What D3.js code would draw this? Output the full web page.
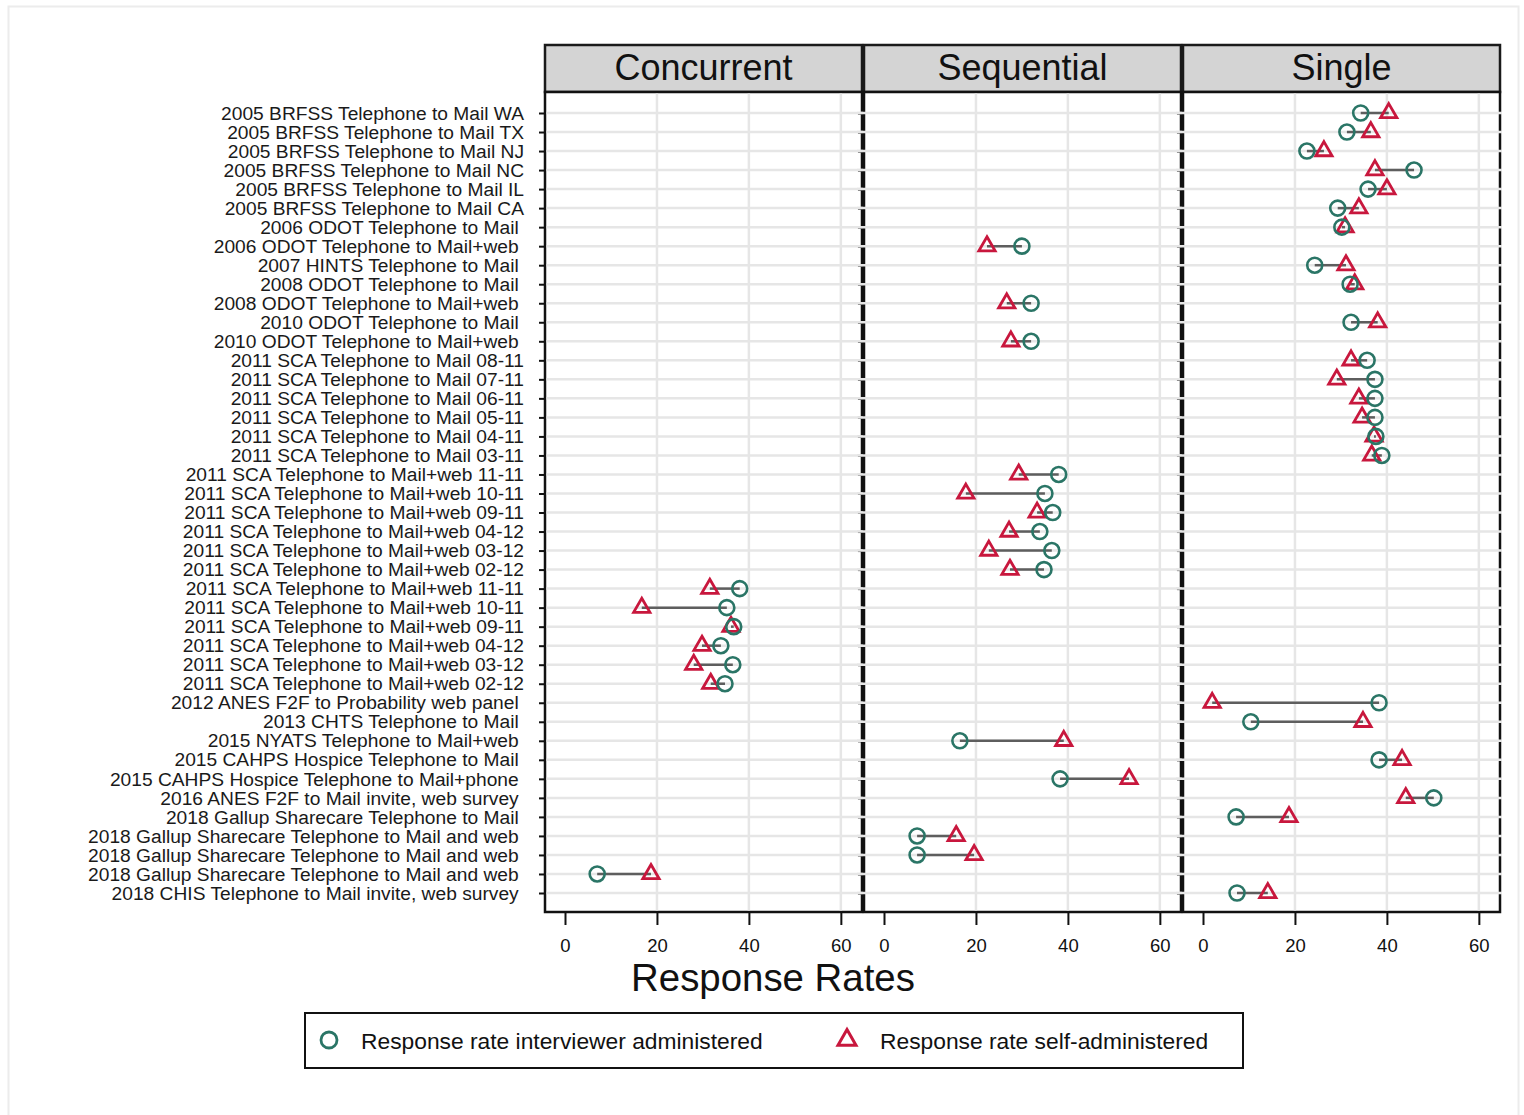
<!DOCTYPE html>
<html>
<head>
<meta charset="utf-8">
<script src="https://cdn.jsdelivr.net/npm/d3@7"></script>
<style>
  body { margin: 0; background: #fff; }
  svg text { font-family: "Liberation Sans", Arial, sans-serif; }
  .row-label { white-space: pre; }
</style>
</head>
<body>
<div id="chart"></div>
<script>
// rows, top to bottom
const surveys = [
    "2005 BRFSS Telephone to Mail WA",
    "2005 BRFSS Telephone to Mail TX",
    "2005 BRFSS Telephone to Mail NJ",
    "2005 BRFSS Telephone to Mail NC",
    "2005 BRFSS Telephone to Mail IL",
    "2005 BRFSS Telephone to Mail CA",
    "2006 ODOT Telephone to Mail ",
    "2006 ODOT Telephone to Mail+web ",
    "2007 HINTS Telephone to Mail ",
    "2008 ODOT Telephone to Mail ",
    "2008 ODOT Telephone to Mail+web ",
    "2010 ODOT Telephone to Mail ",
    "2010 ODOT Telephone to Mail+web ",
    "2011 SCA Telephone to Mail 08-11",
    "2011 SCA Telephone to Mail 07-11",
    "2011 SCA Telephone to Mail 06-11",
    "2011 SCA Telephone to Mail 05-11",
    "2011 SCA Telephone to Mail 04-11",
    "2011 SCA Telephone to Mail 03-11",
    "2011 SCA Telephone to Mail+web 11-11",
    "2011 SCA Telephone to Mail+web 10-11",
    "2011 SCA Telephone to Mail+web 09-11",
    "2011 SCA Telephone to Mail+web 04-12",
    "2011 SCA Telephone to Mail+web 03-12",
    "2011 SCA Telephone to Mail+web 02-12",
    "2011 SCA Telephone to Mail+web 11-11",
    "2011 SCA Telephone to Mail+web 10-11",
    "2011 SCA Telephone to Mail+web 09-11",
    "2011 SCA Telephone to Mail+web 04-12",
    "2011 SCA Telephone to Mail+web 03-12",
    "2011 SCA Telephone to Mail+web 02-12",
    "2012 ANES F2F to Probability web panel ",
    "2013 CHTS Telephone to Mail ",
    "2015 NYATS Telephone to Mail+web ",
    "2015 CAHPS Hospice Telephone to Mail ",
    "2015 CAHPS Hospice Telephone to Mail+phone ",
    "2016 ANES F2F to Mail invite, web survey ",
    "2018 Gallup Sharecare Telephone to Mail ",
    "2018 Gallup Sharecare Telephone to Mail and web ",
    "2018 Gallup Sharecare Telephone to Mail and web ",
    "2018 Gallup Sharecare Telephone to Mail and web ",
    "2018 CHIS Telephone to Mail invite, web survey "
]

const modes = [
    "Single", "Single", "Single", "Single", "Single", "Single",
    "Single", "Sequential", "Single", "Single", "Sequential", "Single", "Sequential",
    "Single", "Single", "Single", "Single", "Single", "Single",
    "Sequential", "Sequential", "Sequential", "Sequential", "Sequential", "Sequential",
    "Concurrent", "Concurrent", "Concurrent", "Concurrent", "Concurrent", "Concurrent",
    "Single", "Single", "Sequential", "Single", "Sequential", "Single", "Single",
    "Sequential", "Sequential", "Concurrent", "Single"
]

const interviewer = [
    34.3, 31.3, 22.6, 45.9, 35.9, 29.3,
    30.2, 30.0, 24.3, 32.0, 32.0, 32.2, 32.0,
    35.7, 37.4, 37.4, 37.4, 37.6, 38.9,
    38.0, 35.0, 36.7, 33.9, 36.5, 34.8,
    38.0, 35.2, 36.7, 33.9, 36.5, 34.8,
    38.3, 10.4, 16.5, 38.3, 38.3, 50.2, 7.2,
    7.2, 7.2, 7.0, 7.4
]

const selfAdministered = [
    40.4, 36.5, 26.3, 37.4, 40.0, 33.9,
    30.9, 22.4, 31.1, 33.0, 26.7, 38.0, 27.6,
    32.2, 29.1, 33.9, 34.6, 37.2, 36.7,
    29.3, 17.8, 33.3, 27.2, 22.8, 27.4,
    31.5, 16.7, 36.1, 29.8, 28.0, 31.7,
    2.0, 34.8, 39.1, 43.3, 53.3, 44.1, 18.7,
    15.7, 19.6, 18.7, 14.1
]

const panels = ["Concurrent", "Sequential", "Single"]
const xTicks = [0, 20, 40, 60]

// layout
const W = 1524, H = 1115
const panelLeft = 545, panelWidth = 317, panelGap = 2
const headerTop = 45, plotTop = 92, plotBottom = 912

const circleColor = "#2a7566"
const triangleColor = "#c8173d"
const gridColor = "#e6e6e6"

const data = surveys.map((s, i) => ({
    i, survey: s, mode: modes[i], iv: interviewer[i], sa: selfAdministered[i]
}))

const svg = d3.select("#chart").append("svg")
    .attr("width", W)
    .attr("height", H)

svg.append("rect")
    .attr("x", 8.5).attr("y", 6.5)
    .attr("width", W - 14).attr("height", H)
    .attr("fill", "#fff")
    .attr("stroke", "#ececec")
    .attr("stroke-width", 2)

const yScale = d3.scalePoint()
    .domain(d3.range(surveys.length))
    .range([113, 893])

const xScale = d3.scaleLinear()
    .domain([-4.35, 64.6])
    .range([0, panelWidth])

const triangle = d3.symbol(d3.symbolTriangle, 115)

panels.forEach((p, pi) => {
    const x0 = panelLeft + pi * (panelWidth + panelGap)
    const g = svg.append("g")
        .attr("transform", `translate(${x0},0)`)

    // header strip
    g.append("rect")
        .attr("x", 0).attr("y", headerTop)
        .attr("width", panelWidth).attr("height", plotTop - headerTop)
        .attr("fill", "#d4d4d4")
        .attr("stroke", "#1a1a1a")
        .attr("stroke-width", 2.5)
    g.append("text")
        .attr("x", panelWidth / 2).attr("y", 80)
        .attr("text-anchor", "middle")
        .attr("font-size", 36)
        .attr("fill", "#111")
        .text(p)

    // plot frame
    g.append("rect")
        .attr("x", 0).attr("y", plotTop)
        .attr("width", panelWidth).attr("height", plotBottom - plotTop)
        .attr("fill", "#fff")
        .attr("stroke", "#111")
        .attr("stroke-width", 2.5)

    // y axis ticks (labels on first panel only)
    const yAxis = d3.axisLeft(yScale)
        .tickSize(6)
        .tickPadding(15)
        .tickFormat(pi === 0 ? (d => surveys[d]) : "")
    const yGroup = g.append("g").attr("class", "y-axis").call(yAxis)
    yGroup.select(".domain").remove()
    yGroup.selectAll(".tick line").attr("stroke", "#111").attr("stroke-width", 2)
    yGroup.selectAll(".tick text")
        .attr("class", "row-label")
        .attr("font-size", 19.2)
        .attr("fill", "#1a1a1a")
        .attr("font-family", "Liberation Sans, Arial, sans-serif")

    // horizontal gridlines run over the side borders
    g.append("g").selectAll("line")
        .data(yScale.domain())
        .join("line")
        .attr("x1", pi === 0 ? 1.5 : -7)
        .attr("x2", panelWidth + 2)
        .attr("y1", d => yScale(d)).attr("y2", d => yScale(d))
        .attr("stroke", gridColor)
        .attr("stroke-width", 2.5)

    // vertical gridlines
    g.append("g").selectAll("line")
        .data(xTicks.filter(t => t > 0))
        .join("line")
        .attr("x1", d => xScale(d)).attr("x2", d => xScale(d))
        .attr("y1", plotTop + 1.5).attr("y2", plotBottom - 1.5)
        .attr("stroke", gridColor)
        .attr("stroke-width", 2.5)

    // x axis
    const xAxis = d3.axisBottom(xScale)
        .tickValues(xTicks)
        .tickSize(13)
        .tickPadding(14)
    const xGroup = g.append("g")
        .attr("class", "x-axis")
        .attr("transform", `translate(0,${plotBottom})`)
        .call(xAxis)
    xGroup.select(".domain").remove()
    xGroup.selectAll(".tick line").attr("stroke", "#111").attr("stroke-width", 2)
    xGroup.selectAll(".tick text")
        .attr("font-size", 18.5)
        .attr("fill", "#111")
        .attr("font-family", "Liberation Sans, Arial, sans-serif")

    // dumbbells
    const rows = data.filter(d => d.mode === p)

    g.append("g").selectAll("line")
        .data(rows)
        .join("line")
        .attr("x1", d => xScale(d.iv)).attr("x2", d => xScale(d.sa))
        .attr("y1", d => yScale(d.i)).attr("y2", d => yScale(d.i))
        .attr("stroke", "#5e5e5e")
        .attr("stroke-width", 2.5)

    g.append("g").selectAll("path")
        .data(rows)
        .join("path")
        .attr("d", triangle)
        .attr("transform", d => `translate(${xScale(d.sa)},${yScale(d.i)})`)
        .attr("fill", "none")
        .attr("stroke", triangleColor)
        .attr("stroke-width", 2.8)

    g.append("g").selectAll("circle")
        .data(rows)
        .join("circle")
        .attr("cx", d => xScale(d.iv))
        .attr("cy", d => yScale(d.i))
        .attr("r", 7.5)
        .attr("fill", "none")
        .attr("stroke", circleColor)
        .attr("stroke-width", 2.6)
})

// axis title
svg.append("text")
    .attr("x", 773).attr("y", 991)
    .attr("text-anchor", "middle")
    .attr("font-size", 38.4)
    .attr("fill", "#111")
    .text("Response Rates")

// legend
const legend = svg.append("g")
legend.append("rect")
    .attr("x", 305).attr("y", 1013)
    .attr("width", 938).attr("height", 55)
    .attr("fill", "#fff")
    .attr("stroke", "#111")
    .attr("stroke-width", 2)
legend.append("circle")
    .attr("cx", 329).attr("cy", 1040)
    .attr("r", 8)
    .attr("fill", "none")
    .attr("stroke", circleColor)
    .attr("stroke-width", 2.8)
legend.append("text")
    .attr("x", 361).attr("y", 1049)
    .attr("font-size", 22.8)
    .attr("fill", "#111")
    .text("Response rate interviewer administered")
legend.append("path")
    .attr("d", d3.symbol(d3.symbolTriangle, 140)())
    .attr("transform", "translate(847,1040)")
    .attr("fill", "none")
    .attr("stroke", triangleColor)
    .attr("stroke-width", 3)
legend.append("text")
    .attr("x", 880).attr("y", 1049)
    .attr("font-size", 22.8)
    .attr("fill", "#111")
    .text("Response rate self-administered")
</script>
</body>
</html>
